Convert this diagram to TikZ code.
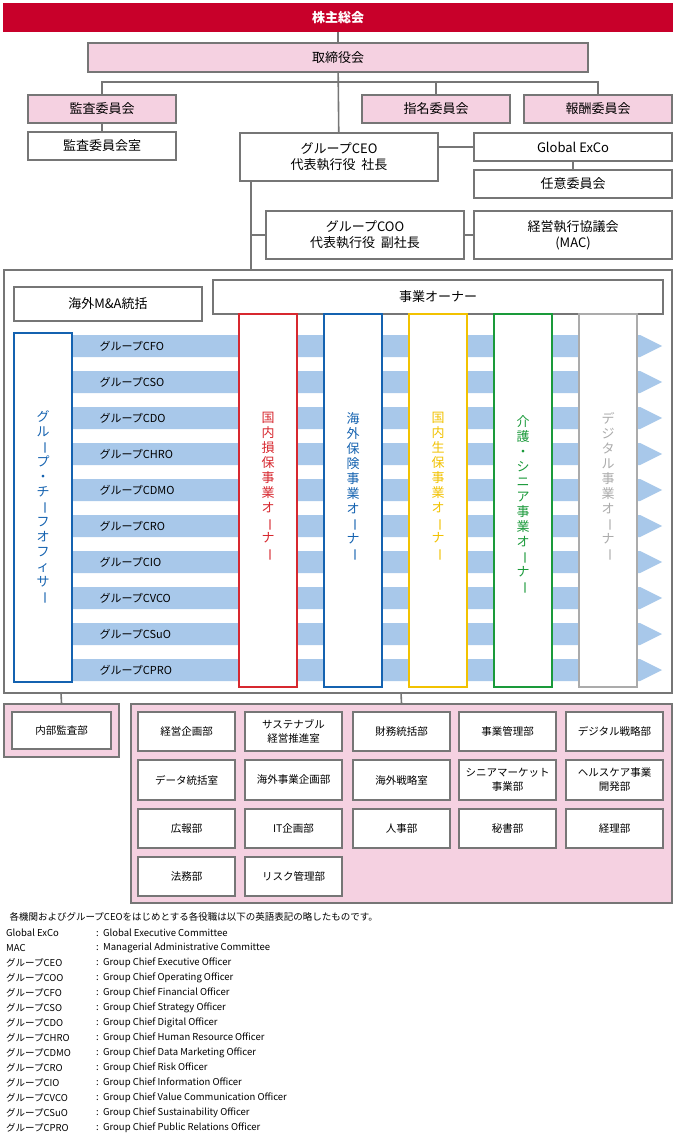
\documentclass[tikz,border=0pt]{standalone}
\usepackage{fontspec}
\setmainfont{Noto Sans CJK JP}
\usetikzlibrary{positioning}
\definecolor{sjred}{HTML}{C8002A}
\definecolor{sjpink}{HTML}{F5D1E1}
\definecolor{sjgray}{HTML}{767676}
\definecolor{sjbar}{HTML}{A8C8EA}
\definecolor{ownred}{HTML}{D7282F}
\definecolor{ownblue}{HTML}{1462B0}
\definecolor{ownyellow}{HTML}{F2C200}
\definecolor{owngreen}{HTML}{1A9A3A}
\definecolor{owngray}{HTML}{ABABAB}
\newcommand{\vbar}{\rotatebox[origin=c]{-90}{ー}}
\tikzset{
  box/.style={draw=sjgray, line width=1.6pt, fill=white, inner sep=0pt,
    align=center, font=\fontsize{13}{16}\selectfont},
  pbox/.style={box, fill=sjpink},
  dept/.style={box, minimum width=97pt, font=\fontsize{10.5}{14}\selectfont},
  owner/.style={draw=#1, line width=1.4pt, fill=white, minimum width=58pt,
    minimum height=373pt, inner sep=0pt},
  vtxt/.style={text=#1, align=center, font=\fontsize{13}{15}\selectfont},
  conn/.style={draw=sjgray, line width=1.6pt},
}
\begin{document}
\begin{tikzpicture}[x=1pt,y=-1pt]
\useasboundingbox (0,0) rectangle (676,1147);

% top
\node[fill=sjred, text=white, minimum width=670pt, minimum height=29pt, inner sep=0pt,
  font=\fontsize{13}{15}\selectfont\bfseries] (agm) at (338,17.5) {株主総会};
\node[pbox, minimum width=500pt, minimum height=29pt] (board) at (338,57.5) {取締役会};
\node[pbox, minimum width=148pt, minimum height=28pt] (audit) at (102,109) {監査委員会};
\node[box, minimum width=148pt, minimum height=28pt] (auditoff) at (102,146) {監査委員会室};
\node[pbox, minimum width=148pt, minimum height=28pt] (nomin) at (436,109) {指名委員会};
\node[pbox, minimum width=148pt, minimum height=28pt] (remun) at (598,109) {報酬委員会};
\node[box, minimum width=198pt, minimum height=48pt] (ceo) at (339,157) {グループCEO\\代表執行役\ \ 社長};
\node[box, minimum width=198pt, minimum height=28pt] (exco) at (573,147) {Global ExCo};
\node[box, minimum width=198pt, minimum height=28pt] (vol) at (573,184) {任意委員会};
\node[box, minimum width=198pt, minimum height=48pt] (coo) at (365,235) {グループCOO\\代表執行役\ \ 副社長};
\node[box, minimum width=198pt, minimum height=48pt] (mac) at (573,235) {経営執行協議会\\(MAC)};

\coordinate (hub) at (338,82);
\draw[conn] (agm) -- (board);
\draw[conn] (board) -- (ceo);
\draw[conn] (audit.north) |- (hub) -| (remun.north);
\draw[conn] (nomin.north) -- (nomin.north |- hub);
\draw[conn] (audit) -- (auditoff);
\draw[conn] (ceo.east |- exco) -- (exco);
\draw[conn] (exco) -- (vol);
\draw[conn] (coo) -- (mac);

% main block
\node[box, minimum width=668pt, minimum height=423pt] (main) at (338,481.5) {};
\coordinate (ceodown) at (251,181);
\draw[conn] (ceodown) -- (ceodown |- main.north);
\draw[conn] (251,235) -- (coo.west);
\node[box, minimum width=188pt, minimum height=34pt] (mna) at (108,304) {海外M\&A統括};
\node[box, minimum width=450pt, minimum height=34pt] (biz) at (438,297) {事業オーナー};

\foreach \lbl [count=\i] in {CFO,CSO,CDO,CHRO,CDMO,CRO,CIO,CVCO,CSuO,CPRO}{
  \pgfmathsetmacro{\yy}{346+36*(\i-1)}
  \fill[sjbar] (72,\yy-11) -- (640,\yy-11) -- (662,\yy) -- (640,\yy+11) -- (72,\yy+11) -- cycle;
  \node[anchor=west, font=\fontsize{11}{13}\selectfont] (bar\i) at (96,\yy) {グループ\lbl};
}

\node[owner=ownblue, minimum height=349pt] (chief) at (43,507.5) {};
\node[vtxt=ownblue] at (chief) {グ\\ル\\\vbar\\プ\\・\\チ\\\vbar\\フ\\オ\\フ\\ィ\\サ\\\vbar};
\node[owner=ownred] (own1) at (268,500.5) {};
\node[vtxt=ownred] at (268,487) {国\\内\\損\\保\\事\\業\\オ\\\vbar\\ナ\\\vbar};
\node[owner=ownblue] (own2) at (353,500.5) {};
\node[vtxt=ownblue] at (353,487) {海\\外\\保\\険\\事\\業\\オ\\\vbar\\ナ\\\vbar};
\node[owner=ownyellow] (own3) at (438,500.5) {};
\node[vtxt=ownyellow] at (438,487) {国\\内\\生\\保\\事\\業\\オ\\\vbar\\ナ\\\vbar};
\node[owner=owngreen] (own4) at (523,500.5) {};
\node[vtxt=owngreen] at (523,505) {介\\護\\・\\シ\\ニ\\ア\\事\\業\\オ\\\vbar\\ナ\\\vbar};
\node[owner=owngray] (own5) at (608,500.5) {};
\node[vtxt=owngray] at (608,487) {デ\\ジ\\タ\\ル\\事\\業\\オ\\\vbar\\ナ\\\vbar};

% departments
\node[pbox, minimum width=115pt, minimum height=53pt] (iaout) at (61.5,730.5) {};
\node[box, minimum width=99pt, minimum height=37pt, font=\fontsize{10.5}{14}\selectfont] (ia) at (iaout) {内部監査部};
\node[pbox, minimum width=541pt, minimum height=199pt] (hq) at (401.5,803.5) {};
\draw[conn] (61,693) -- (iaout.north);
\draw[conn] (401,693) -- (hq.north);

\node[dept, minimum height=39pt] (d1) at (186.5,731.5) {経営企画部};
\node[dept, minimum height=39pt] (d2) at (293.5,731.5) {サステナブル\\経営推進室};
\node[dept, minimum height=39pt] (d3) at (401.5,731.5) {財務統括部};
\node[dept, minimum height=39pt] (d4) at (507.5,731.5) {事業管理部};
\node[dept, minimum height=39pt] (d5) at (614.5,731.5) {デジタル戦略部};
\node[dept, minimum height=40pt] (d6) at (186.5,780) {データ統括室};
\node[dept, minimum height=40pt] (d7) at (293.5,780) {海外事業企画部};
\node[dept, minimum height=40pt] (d8) at (401.5,780) {海外戦略室};
\node[dept, minimum height=40pt] (d9) at (507.5,780) {シニアマーケット\\事業部};
\node[dept, minimum height=40pt] (d10) at (614.5,780) {ヘルスケア事業\\開発部};
\node[dept, minimum height=39pt] (d11) at (186.5,828.5) {広報部};
\node[dept, minimum height=39pt] (d12) at (293.5,828.5) {IT企画部};
\node[dept, minimum height=39pt] (d13) at (401.5,828.5) {人事部};
\node[dept, minimum height=39pt] (d14) at (507.5,828.5) {秘書部};
\node[dept, minimum height=39pt] (d15) at (614.5,828.5) {経理部};
\node[dept, minimum height=39pt] (d16) at (186.5,876.5) {法務部};
\node[dept, minimum height=39pt] (d17) at (293.5,876.5) {リスク管理部};

% legend
\node[anchor=west, font=\fontsize{9.5}{11}\selectfont] (note) at (6,917) {各機関およびグループCEOをはじめとする各役職は以下の英語表記の略したものです。};
\foreach \ab/\full [count=\i] in {Global ExCo/Global Executive Committee,
  MAC/Managerial Administrative Committee,
  グループCEO/Group Chief Executive Officer,
  グループCOO/Group Chief Operating Officer,
  グループCFO/Group Chief Financial Officer,
  グループCSO/Group Chief Strategy Officer,
  グループCDO/Group Chief Digital Officer,
  グループCHRO/Group Chief Human Resource Officer,
  グループCDMO/Group Chief Data Marketing Officer,
  グループCRO/Group Chief Risk Officer,
  グループCIO/Group Chief Information Officer,
  グループCVCO/Group Chief Value Communication Officer,
  グループCSuO/Group Chief Sustainability Officer,
  グループCPRO/Group Chief Public Relations Officer}{
  \pgfmathsetmacro{\yy}{918+15*\i}
  \node[anchor=west, inner sep=0pt, font=\fontsize{9.5}{11}\selectfont] (ab\i) at (6,\yy) {\ab};
  \node[anchor=west, inner sep=0pt, font=\fontsize{9.5}{11}\selectfont] (full\i) at (96,\yy) {:\ \ \full};
}
\end{tikzpicture}
\end{document}
